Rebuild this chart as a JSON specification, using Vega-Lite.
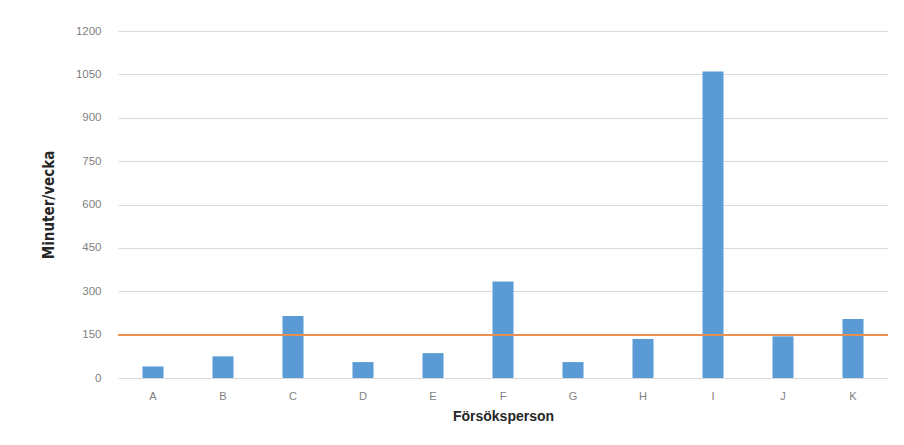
{
  "$schema": "https://vega.github.io/schema/vega-lite/v6.json",
  "width": 770,
  "height": 347,
  "autosize": {"type": "none"},
  "padding": {"left": 118, "top": 31, "right": 16, "bottom": 67},
  "background": "white",
  "data": {
    "values": [
      {"person": "A", "minuter": 40},
      {"person": "B", "minuter": 75},
      {"person": "C", "minuter": 214},
      {"person": "D", "minuter": 55},
      {"person": "E", "minuter": 86},
      {"person": "F", "minuter": 334},
      {"person": "G", "minuter": 55},
      {"person": "H", "minuter": 135},
      {"person": "I", "minuter": 1060},
      {"person": "J", "minuter": 144},
      {"person": "K", "minuter": 204}
    ]
  },
  "layer": [
    {
      "mark": {"type": "bar", "color": "#5B9BD5"},
      "encoding": {
        "x": {
          "field": "person",
          "type": "nominal",
          "sort": null,
          "scale": {"paddingInner": 0.7, "paddingOuter": 0.35},
          "axis": {
            "title": "Försöksperson",
            "labelAngle": 0,
            "labelColor": "#7F7F7F",
            "labelFontSize": 11,
            "labelPadding": 12,
            "ticks": false,
            "domain": false,
            "titleFontSize": 14,
            "titleFontWeight": "bold",
            "titleColor": "#262626",
            "titlePadding": 8
          }
        },
        "y": {
          "field": "minuter",
          "type": "quantitative",
          "scale": {"domain": [0, 1200]},
          "axis": {
            "title": "Minuter/vecka",
            "format": "d",
            "values": [0, 150, 300, 450, 600, 750, 900, 1050, 1200],
            "labelColor": "#7F7F7F",
            "labelFontSize": 11.5,
            "labelPadding": 17,
            "ticks": false,
            "domain": false,
            "gridColor": "#D9D9D9",
            "titleFontSize": 15,
            "titleFontWeight": "bold",
            "titleColor": "#262626",
            "titleFont": "DejaVu Sans Condensed, Liberation Sans",
            "titlePadding": 19
          }
        }
      }
    },
    {
      "mark": {"type": "rule", "color": "#EC8F4E", "strokeWidth": 1.3},
      "encoding": {"y": {"datum": 150, "type": "quantitative"}}
    }
  ],
  "config": {
    "font": "Liberation Sans",
    "view": {"stroke": null}
  }
}
